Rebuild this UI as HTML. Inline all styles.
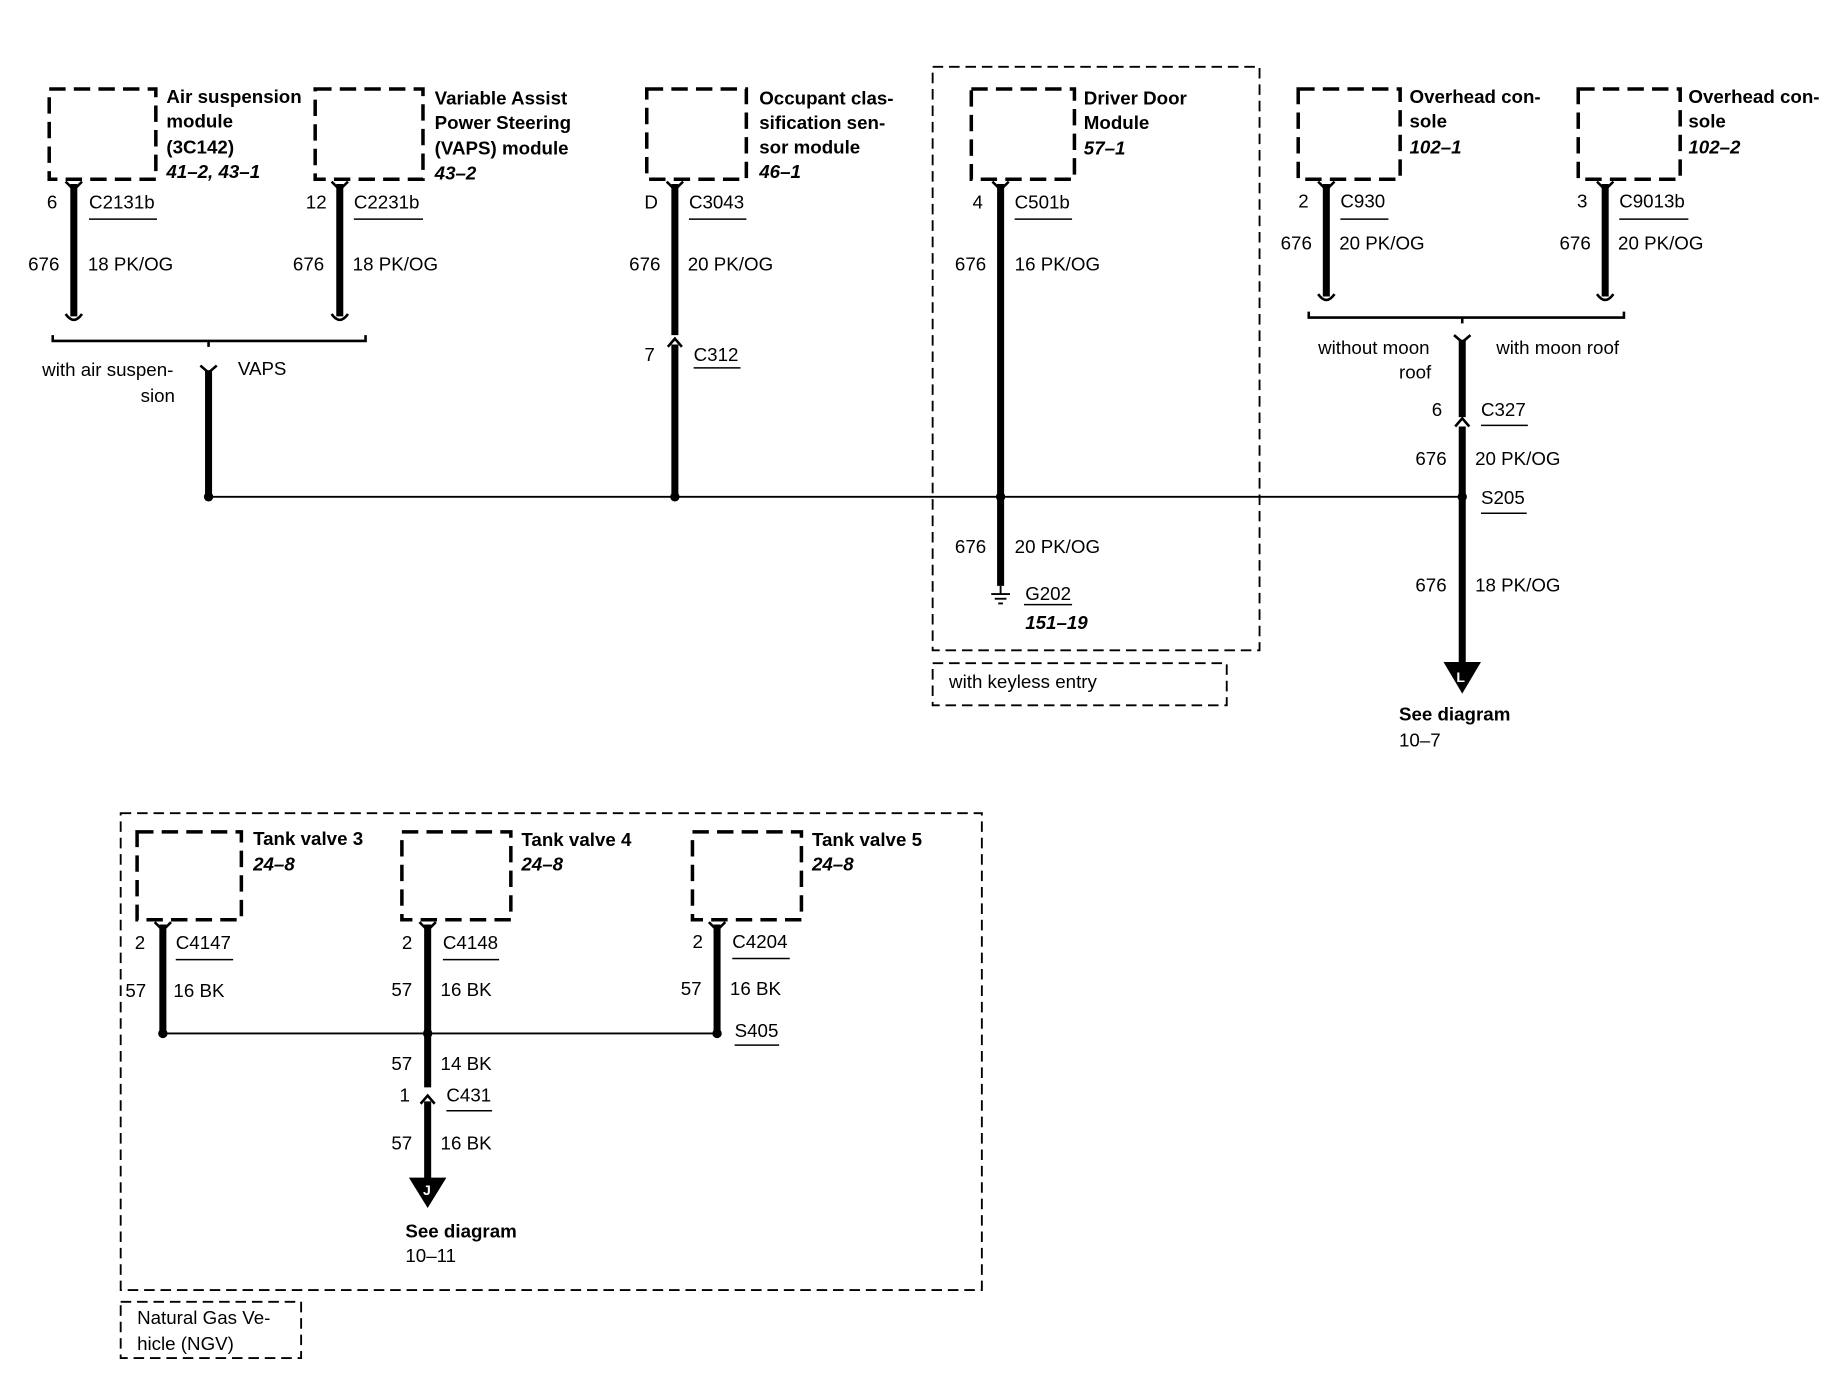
<!DOCTYPE html>
<html><head><meta charset="utf-8"><style>
html,body{margin:0;padding:0;background:#fff;}
svg{display:block;}
text{font-family:"Liberation Sans",sans-serif;font-size:16px;fill:#000;}
.b{font-weight:bold;}
.bi{font-weight:bold;font-style:italic;}
</style></head><body>
<svg width="1836" height="1392" viewBox="0 0 1567 1188" preserveAspectRatio="none" xmlns="http://www.w3.org/2000/svg">
<g fill="none" stroke="#000">
<g stroke-width="3" stroke-dasharray="14,7">
<rect x="42" y="76" width="91" height="77"/>
<rect x="269" y="76" width="92" height="77"/>
<rect x="552" y="76" width="85" height="77"/>
<rect x="829" y="76" width="88" height="77"/>
<rect x="1108" y="76" width="87" height="77"/>
<rect x="1347" y="76" width="87" height="77"/>
<rect x="117" y="710" width="89" height="75"/>
<rect x="343" y="710" width="93" height="75"/>
<rect x="591" y="710" width="93" height="75"/>
</g>
<g stroke-width="1.6" stroke-dasharray="9,5">
<rect x="796" y="57" width="279" height="498"/>
<rect x="796" y="566" width="251" height="36"/>
<rect x="103" y="694" width="735" height="407"/>
<rect x="103" y="1111" width="154" height="48"/>
</g>
<g stroke-width="6">
<line x1="63" y1="157" x2="63" y2="270"/>
<line x1="290" y1="157" x2="290" y2="270"/>
<line x1="178" y1="316" x2="178" y2="424"/>
<line x1="576" y1="157" x2="576" y2="286"/>
<line x1="576" y1="294" x2="576" y2="424"/>
<line x1="854" y1="157" x2="854" y2="500"/>
<line x1="1132" y1="157" x2="1132" y2="253"/>
<line x1="1370" y1="157" x2="1370" y2="253"/>
<line x1="1248" y1="290" x2="1248" y2="356"/>
<line x1="1248" y1="364" x2="1248" y2="570"/>
<line x1="139" y1="789" x2="139" y2="882"/>
<line x1="365" y1="789" x2="365" y2="928"/>
<line x1="365" y1="940" x2="365" y2="1008"/>
<line x1="612" y1="789" x2="612" y2="882"/>
</g>
<g stroke-width="2.2">
<path d="M56 155 L63 162 L70 155"/><path d="M283 155 L290 162 L297 155"/>
<path d="M569 155 L576 162 L583 155"/><path d="M847 155 L854 162 L861 155"/>
<path d="M1125 155 L1132 162 L1139 155"/><path d="M1363 155 L1370 162 L1377 155"/>
<path d="M132 787 L139 794 L146 787"/><path d="M358 787 L365 794 L372 787"/><path d="M605 787 L612 794 L619 787"/>
<path d="M56 268 Q63 278 70 268"/><path d="M283 268 Q290 278 297 268"/>
<path d="M1125 251 Q1132 261 1139 251"/><path d="M1363 251 Q1370 261 1377 251"/>
<path d="M171 312 L178 318 L185 312"/><path d="M1241 286 L1248 292 L1255 286"/>
<path d="M570 296 L576 289 L582 296"/><path d="M1242 364 L1248 357 L1254 364"/>
<path d="M359 942 L365 935 L371 942"/>
<path d="M45 286 L45 291 L312 291 L312 286 M178 291 L178 296"/>
<path d="M1117 266 L1117 271 L1386 271 L1386 266 M1248 271 L1248 276"/>
</g>
<g stroke-width="1.6">
<line x1="178" y1="424" x2="1248" y2="424"/>
<line x1="139" y1="882" x2="612" y2="882"/>
<line x1="854" y1="500" x2="854" y2="507"/>
<line x1="846" y1="507" x2="862" y2="507"/>
<line x1="849" y1="511" x2="859" y2="511"/>
<line x1="852" y1="515" x2="856" y2="515"/>
</g>
<g stroke-width="1.3">
<line x1="76" y1="187" x2="134" y2="187"/><line x1="302" y1="187" x2="361" y2="187"/>
<line x1="588" y1="187" x2="637" y2="187"/><line x1="866" y1="187" x2="915" y2="187"/>
<line x1="1144" y1="187" x2="1185" y2="187"/><line x1="1382" y1="187" x2="1441" y2="187"/>
<line x1="592" y1="314" x2="632" y2="314"/><line x1="1264" y1="363" x2="1304" y2="363"/>
<line x1="1264" y1="438" x2="1303" y2="438"/><line x1="874" y1="516" x2="915" y2="516"/>
<line x1="150" y1="819" x2="199" y2="819"/><line x1="378" y1="819" x2="426" y2="819"/>
<line x1="625" y1="818" x2="674" y2="818"/><line x1="627" y1="892" x2="665" y2="892"/>
<line x1="381" y1="948" x2="420" y2="948"/>
</g>
</g>
<g fill="#000">
<circle cx="178" cy="424" r="4"/><circle cx="576" cy="424" r="4"/><circle cx="854" cy="424" r="4"/><circle cx="1248" cy="424" r="4"/>
<circle cx="139" cy="882" r="4"/><circle cx="365" cy="882" r="4"/><circle cx="612" cy="882" r="4"/>
<polygon points="1232,565 1264,565 1248,592"/>
<polygon points="349,1005 381,1005 365,1031"/>
</g>
<text x="1243" y="582" style="fill:#fff;font-size:12px" class="b">L</text>
<text x="361" y="1020" style="fill:#fff;font-size:12px" class="b">J</text>

<g class="b">
<text x="142" y="88" class="b">Air suspension</text><text x="142" y="109" class="b">module</text><text x="142" y="131" class="b">(3C142)</text>
<text x="371" y="89" class="b">Variable Assist</text><text x="371" y="110" class="b">Power Steering</text><text x="371" y="132" class="b">(VAPS) module</text>
<text x="648" y="89" class="b">Occupant clas-</text><text x="648" y="110" class="b">sification sen-</text><text x="648" y="131" class="b">sor module</text>
<text x="925" y="89" class="b">Driver Door</text><text x="925" y="110" class="b">Module</text>
<text x="1203" y="88" class="b">Overhead con-</text><text x="1203" y="109" class="b">sole</text>
<text x="1441" y="88" class="b">Overhead con-</text><text x="1441" y="109" class="b">sole</text>
<text x="216" y="721" class="b">Tank valve 3</text><text x="445" y="722" class="b">Tank valve 4</text><text x="693" y="722" class="b">Tank valve 5</text>
<text x="1194" y="615" class="b">See diagram</text><text x="346" y="1056" class="b">See diagram</text>
</g>
<text x="142" y="152" class="bi">41–2, 43–1</text><text x="371" y="153" class="bi">43–2</text>
<text x="648" y="152" class="bi">46–1</text><text x="925" y="132" class="bi">57–1</text>
<text x="1203" y="131" class="bi">102–1</text><text x="1441" y="131" class="bi">102–2</text>
<text x="216" y="743" class="bi">24–8</text><text x="445" y="743" class="bi">24–8</text><text x="693" y="743" class="bi">24–8</text>
<text x="875" y="537" class="bi">151–19</text>

<text x="40" y="178">6</text><text x="76" y="178">C2131b</text>
<text x="24" y="231">676</text><text x="75" y="231">18 PK/OG</text>
<text x="261" y="178">12</text><text x="302" y="178">C2231b</text>
<text x="250" y="231">676</text><text x="301" y="231">18 PK/OG</text>
<text x="36" y="321">with air suspen-</text><text x="120" y="343">sion</text><text x="203" y="320">VAPS</text>
<text x="550" y="178">D</text><text x="588" y="178">C3043</text>
<text x="537" y="231">676</text><text x="587" y="231">20 PK/OG</text>
<text x="550" y="308">7</text><text x="592" y="308">C312</text>
<text x="830" y="178">4</text><text x="866" y="178">C501b</text>
<text x="815" y="231">676</text><text x="866" y="231">16 PK/OG</text>
<text x="815" y="472">676</text><text x="866" y="472">20 PK/OG</text>
<text x="875" y="512">G202</text>
<text x="810" y="587">with keyless entry</text>
<text x="1108" y="177">2</text><text x="1144" y="177">C930</text>
<text x="1093" y="213">676</text><text x="1143" y="213">20 PK/OG</text>
<text x="1346" y="177">3</text><text x="1382" y="177">C9013b</text>
<text x="1331" y="213">676</text><text x="1381" y="213">20 PK/OG</text>
<text x="1125" y="302">without moon</text><text x="1194" y="323">roof</text><text x="1277" y="302">with moon roof</text>
<text x="1222" y="355">6</text><text x="1264" y="355">C327</text>
<text x="1208" y="397">676</text><text x="1259" y="397">20 PK/OG</text>
<text x="1264" y="430">S205</text>
<text x="1208" y="505">676</text><text x="1259" y="505">18 PK/OG</text>
<text x="1194" y="637">10–7</text>
<text x="115" y="810">2</text><text x="150" y="810">C4147</text>
<text x="107" y="851">57</text><text x="148" y="851">16 BK</text>
<text x="343" y="810">2</text><text x="378" y="810">C4148</text>
<text x="334" y="850">57</text><text x="376" y="850">16 BK</text>
<text x="591" y="809">2</text><text x="625" y="809">C4204</text>
<text x="581" y="849">57</text><text x="623" y="849">16 BK</text>
<text x="627" y="885">S405</text>
<text x="334" y="913">57</text><text x="376" y="913">14 BK</text>
<text x="341" y="940">1</text><text x="381" y="940">C431</text>
<text x="334" y="981">57</text><text x="376" y="981">16 BK</text>
<text x="346" y="1077">10–11</text>
<text x="117" y="1130">Natural Gas Ve-</text><text x="117" y="1152">hicle (NGV)</text>
</svg>
</body></html>
